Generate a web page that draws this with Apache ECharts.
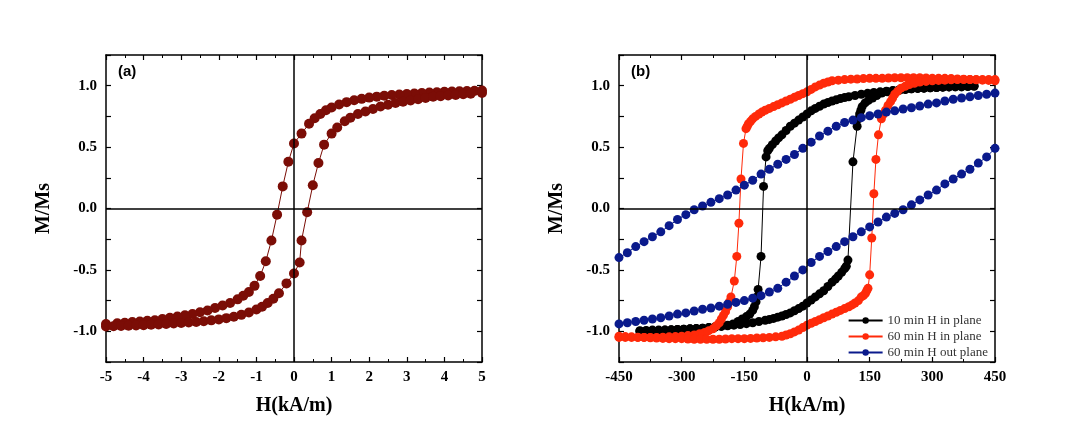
<!DOCTYPE html>
<html>
<head>
<meta charset="utf-8">
<script src="https://cdn.jsdelivr.net/npm/echarts@6/dist/echarts.min.js"></script>
<style>html,body{margin:0;padding:0;background:#fff}#c{width:1067px;height:430px}</style>
</head>
<body>
<div id="c"></div>
<script>
// (a) 回线: 下降支 / 上升支  [H(kA/m), M/Ms]
var aDown = [[5,0.96],[4.8,0.958],[4.6,0.956],[4.4,0.954],[4.2,0.952],[4,0.95],[3.8,0.947],[3.6,0.944],[3.4,0.941],[3.2,0.937],[3,0.933],[2.8,0.929],[2.6,0.924],[2.4,0.918],[2.2,0.911],[2,0.903],[1.8,0.893],[1.6,0.881],[1.4,0.866],[1.2,0.847],[1,0.822],[0.85,0.8],[0.7,0.77],[0.55,0.735],[0.4,0.69],[0.2,0.61],[0,0.53],[-0.15,0.38],[-0.3,0.18],[-0.45,-0.05],[-0.6,-0.26],[-0.75,-0.43],[-0.9,-0.55],[-1.05,-0.63],[-1.2,-0.68],[-1.35,-0.71],[-1.5,-0.74],[-1.7,-0.77],[-1.9,-0.79],[-2.1,-0.81],[-2.3,-0.83],[-2.5,-0.845],[-2.7,-0.86],[-2.9,-0.87],[-3.1,-0.88],[-3.3,-0.89],[-3.5,-0.9],[-3.7,-0.91],[-3.9,-0.915],[-4.1,-0.92],[-4.3,-0.925],[-4.5,-0.93],[-4.7,-0.935],[-5,-0.94]];
var aUp = [[-5,-0.96],[-4.8,-0.958],[-4.6,-0.956],[-4.4,-0.954],[-4.2,-0.952],[-4,-0.95],[-3.8,-0.947],[-3.6,-0.944],[-3.4,-0.941],[-3.2,-0.937],[-3,-0.933],[-2.8,-0.929],[-2.6,-0.924],[-2.4,-0.918],[-2.2,-0.911],[-2,-0.903],[-1.8,-0.893],[-1.6,-0.881],[-1.4,-0.866],[-1.2,-0.847],[-1,-0.822],[-0.85,-0.8],[-0.7,-0.77],[-0.55,-0.735],[-0.4,-0.69],[-0.2,-0.61],[0,-0.53],[0.15,-0.44],[0.2,-0.26],[0.35,-0.03],[0.5,0.19],[0.65,0.37],[0.8,0.52],[1,0.61],[1.15,0.66],[1.35,0.71],[1.5,0.74],[1.7,0.77],[1.9,0.79],[2.1,0.81],[2.3,0.83],[2.5,0.845],[2.7,0.86],[2.9,0.87],[3.1,0.88],[3.3,0.89],[3.5,0.9],[3.7,0.91],[3.9,0.915],[4.1,0.92],[4.3,0.925],[4.5,0.93],[4.7,0.935],[5,0.94]];

// (b) 三条回线 [H(kA/m), M/Ms]
var blackDown = [[400,1.0],[385,0.998],[370,0.995],[355,0.993],[340,0.99],[325,0.988],[310,0.985],[295,0.983],[280,0.98],[265,0.978],[250,0.975],[235,0.97],[220,0.965],[205,0.96],[190,0.955],[175,0.95],[160,0.945],[145,0.938],[130,0.93],[115,0.92],[100,0.91],[90,0.903],[80,0.895],[70,0.885],[60,0.875],[50,0.863],[40,0.85],[30,0.833],[20,0.815],[10,0.795],[0,0.77],[-10,0.745],[-20,0.72],[-30,0.695],[-40,0.67],[-50,0.635],[-60,0.6],[-68,0.575],[-75,0.55],[-83,0.52],[-90,0.49],[-94,0.47],[-98,0.42],[-104,0.18],[-110,-0.39],[-117,-0.66],[-120,-0.72],[-122,-0.76],[-126,-0.8],[-130,-0.83],[-137,-0.86],[-145,-0.88],[-155,-0.9],[-165,-0.92],[-177,-0.94],[-190,-0.95],[-205,-0.958],[-220,-0.965],[-235,-0.97],[-250,-0.975],[-265,-0.978],[-280,-0.98],[-295,-0.983],[-310,-0.985],[-325,-0.988],[-340,-0.99],[-355,-0.99],[-370,-0.99],[-385,-0.993],[-400,-0.995]];
var blackUp = [[-400,-1.0],[-385,-0.998],[-370,-0.995],[-355,-0.993],[-340,-0.99],[-325,-0.988],[-310,-0.985],[-295,-0.983],[-280,-0.98],[-265,-0.978],[-250,-0.975],[-235,-0.97],[-220,-0.965],[-205,-0.96],[-190,-0.955],[-175,-0.95],[-160,-0.945],[-145,-0.938],[-130,-0.93],[-115,-0.92],[-100,-0.91],[-90,-0.903],[-80,-0.895],[-70,-0.885],[-60,-0.875],[-50,-0.863],[-40,-0.85],[-30,-0.833],[-20,-0.815],[-10,-0.795],[0,-0.77],[10,-0.745],[20,-0.72],[30,-0.695],[40,-0.67],[50,-0.635],[60,-0.6],[68,-0.575],[75,-0.55],[83,-0.52],[90,-0.49],[94,-0.47],[98,-0.42],[110,0.38],[120,0.67],[123,0.73],[126,0.77],[129,0.8],[132,0.83],[139,0.86],[147,0.88],[157,0.9],[167,0.92],[179,0.94],[192,0.95],[207,0.958],[222,0.965],[236,0.97],[250,0.975],[265,0.978],[280,0.98],[295,0.983],[310,0.985],[325,0.988],[340,0.99],[355,0.99],[370,0.99],[385,0.993],[400,0.995]];
var redDown = [[450,1.04],[435,1.043],[420,1.045],[405,1.048],[390,1.05],[375,1.053],[360,1.055],[345,1.058],[330,1.06],[315,1.06],[300,1.06],[285,1.063],[270,1.065],[255,1.065],[240,1.065],[225,1.065],[210,1.065],[195,1.063],[180,1.06],[165,1.06],[150,1.06],[135,1.058],[120,1.055],[105,1.053],[90,1.05],[75,1.045],[60,1.04],[50,1.03],[40,1.02],[30,1.005],[20,0.99],[10,0.97],[0,0.95],[-10,0.935],[-20,0.92],[-30,0.905],[-40,0.89],[-50,0.875],[-60,0.86],[-70,0.845],[-80,0.83],[-90,0.815],[-100,0.8],[-108,0.785],[-115,0.77],[-123,0.75],[-130,0.73],[-135,0.71],[-140,0.69],[-143,0.67],[-146,0.65],[-152,0.53],[-158,0.24],[-163,-0.12],[-168,-0.39],[-174,-0.59],[-182,-0.72],[-186,-0.76],[-190,-0.8],[-195,-0.84],[-200,-0.87],[-205,-0.9],[-210,-0.93],[-217,-0.955],[-225,-0.98],[-235,-0.995],[-245,-1.01],[-257,-1.02],[-270,-1.03],[-285,-1.035],[-300,-1.04],[-315,-1.043],[-330,-1.045],[-345,-1.048],[-360,-1.05],[-375,-1.05],[-390,-1.05],[-405,-1.05],[-420,-1.05],[-435,-1.05],[-450,-1.05]];
var redUp = [[-450,-1.04],[-435,-1.043],[-420,-1.045],[-405,-1.048],[-390,-1.05],[-375,-1.053],[-360,-1.055],[-345,-1.058],[-330,-1.06],[-315,-1.06],[-300,-1.06],[-285,-1.063],[-270,-1.065],[-255,-1.065],[-240,-1.065],[-225,-1.065],[-210,-1.065],[-195,-1.063],[-180,-1.06],[-165,-1.06],[-150,-1.06],[-135,-1.058],[-120,-1.055],[-105,-1.053],[-90,-1.05],[-75,-1.045],[-60,-1.04],[-50,-1.03],[-40,-1.02],[-30,-1.005],[-20,-0.99],[-10,-0.97],[0,-0.95],[10,-0.935],[20,-0.92],[30,-0.905],[40,-0.89],[50,-0.875],[60,-0.86],[70,-0.845],[80,-0.83],[90,-0.815],[100,-0.8],[108,-0.785],[115,-0.77],[123,-0.75],[130,-0.72],[135,-0.71],[140,-0.69],[143,-0.67],[146,-0.65],[150,-0.54],[155,-0.24],[160,0.12],[165,0.4],[171,0.6],[178,0.73],[183,0.77],[188,0.8],[194,0.84],[200,0.87],[205,0.9],[210,0.93],[217,0.955],[225,0.98],[235,0.995],[245,1.01],[257,1.02],[270,1.03],[285,1.035],[300,1.04],[315,1.043],[330,1.045],[345,1.048],[360,1.05],[375,1.05],[390,1.05],[405,1.05],[420,1.05],[435,1.05],[450,1.05]];
var blueDown = [[450,0.94],[430,0.93],[410,0.92],[390,0.91],[370,0.9],[350,0.89],[330,0.875],[310,0.86],[290,0.85],[270,0.835],[250,0.82],[230,0.81],[210,0.795],[190,0.785],[170,0.77],[150,0.755],[130,0.74],[110,0.72],[90,0.7],[70,0.67],[50,0.63],[30,0.59],[10,0.54],[-10,0.49],[-30,0.44],[-50,0.4],[-70,0.36],[-90,0.32],[-110,0.28],[-130,0.23],[-150,0.19],[-170,0.15],[-190,0.11],[-210,0.08],[-230,0.05],[-250,0.02],[-270,-0.01],[-290,-0.05],[-310,-0.09],[-330,-0.14],[-350,-0.19],[-370,-0.23],[-390,-0.27],[-410,-0.31],[-430,-0.36],[-450,-0.4]];
var blueUp = [[-450,-0.94],[-430,-0.93],[-410,-0.92],[-390,-0.91],[-370,-0.9],[-350,-0.89],[-330,-0.875],[-310,-0.86],[-290,-0.85],[-270,-0.835],[-250,-0.82],[-230,-0.81],[-210,-0.795],[-190,-0.78],[-170,-0.765],[-150,-0.75],[-130,-0.73],[-110,-0.71],[-90,-0.68],[-70,-0.65],[-50,-0.6],[-30,-0.55],[-10,-0.5],[10,-0.44],[30,-0.39],[50,-0.35],[70,-0.31],[90,-0.27],[110,-0.23],[130,-0.19],[150,-0.15],[170,-0.11],[190,-0.07],[210,-0.04],[230,-0.01],[250,0.03],[270,0.07],[290,0.11],[310,0.15],[330,0.2],[350,0.24],[370,0.28],[390,0.32],[410,0.37],[430,0.42],[450,0.49]];

var legendNames = ['10 min H in plane', '60 min H in plane', '60 min H out plane'];
var xTicksA = {min: -5, max: 5, interval: 1};
var xTicksB = {min: -450, max: 450, interval: 150};

var serif = 'Liberation Serif';
var tickStyle = {show: true, inside: true, length: 5, lineStyle: {color: '#000', width: 1.2}};
var minor = {show: true, splitNumber: 2, length: 3, lineStyle: {color: '#000'}};

function yAxisFor(gi, pos, showLabel) {
    return {
        type: 'value', gridIndex: gi, position: pos, min: -1.25, max: 1.25, interval: 0.25,
        name: showLabel ? 'M/Ms' : '', nameLocation: 'middle', nameGap: 52,
        nameTextStyle: {fontFamily: serif, fontWeight: 'bold', fontSize: 20, color: '#000'},
        axisLine: {show: true, onZero: false, lineStyle: {color: '#000', width: 1.5}},
        axisTick: tickStyle, splitLine: {show: false},
        axisLabel: {show: showLabel, fontFamily: serif, fontWeight: 'bold', fontSize: 15, color: '#000', margin: 9,
            formatter: function (v) { return Math.abs(v * 2 - Math.round(v * 2)) < 1e-6 ? v.toFixed(1) : ''; }}
    };
}
function xAxisFor(gi, pos, t, showLabel) {
    return {
        type: 'value', gridIndex: gi, position: pos, min: t.min, max: t.max, interval: t.interval,
        name: showLabel ? 'H(kA/m)' : '', nameLocation: 'middle', nameGap: 34,
        nameTextStyle: {fontFamily: serif, fontWeight: 'bold', fontSize: 20, color: '#000'},
        axisLine: {show: true, onZero: false, lineStyle: {color: '#000', width: 1.5}},
        axisTick: tickStyle, minorTick: minor, splitLine: {show: false},
        axisLabel: {show: showLabel, fontFamily: serif, fontWeight: 'bold', fontSize: 15, color: '#000'}
    };
}
function loop(name, data, color, xi, size, zeroLines) {
    var s = {
        name: name, type: 'line', xAxisIndex: xi, yAxisIndex: xi * 2, data: data,
        symbol: 'circle', symbolSize: size, showSymbol: true, animation: false,
        itemStyle: {color: color}, lineStyle: {color: color, width: 1}
    };
    if (zeroLines) {
        s.markLine = {silent: true, symbol: 'none', label: {show: false}, animation: false,
            lineStyle: {color: '#000', type: 'solid', width: 1.5},
            data: [{xAxis: 0}, {yAxis: 0}]};
    }
    return s;
}

var chart = echarts.init(document.getElementById('c'));
chart.setOption({
    backgroundColor: '#fff',
    grid: [
        {left: 106, top: 55, width: 376, height: 307},
        {left: 619, top: 55, width: 376, height: 307}
    ],
    xAxis: [
        xAxisFor(0, 'bottom', xTicksA, true), xAxisFor(1, 'bottom', xTicksB, true),
        xAxisFor(0, 'top', xTicksA, false), xAxisFor(1, 'top', xTicksB, false)
    ],
    yAxis: [
        yAxisFor(0, 'left', true), yAxisFor(0, 'right', false),
        yAxisFor(1, 'left', true), yAxisFor(1, 'right', false)
    ],
    graphic: [
        {type: 'text', left: 118, top: 64, style: {text: '(a)', font: 'bold 15px "Liberation Sans"', fill: '#000'}},
        {type: 'text', left: 631, top: 64, style: {text: '(b)', font: 'bold 15px "Liberation Sans"', fill: '#000'}}
    ],
    legend: {
        data: legendNames, orient: 'vertical', right: 74, top: 309, itemGap: 3,
        itemWidth: 34, itemHeight: 8,
        textStyle: {fontFamily: serif, fontSize: 13, color: '#333'}
    },
    series: [
        loop('a1', aDown, '#7b0d06', 0, 10, true),
        loop('a2', aUp, '#7b0d06', 0, 10, false),
        loop(legendNames[0], blackDown, '#000', 1, 9, true),
        loop(legendNames[0], blackUp, '#000', 1, 9, false),
        loop(legendNames[1], redDown, '#ff2a0a', 1, 9, false),
        loop(legendNames[1], redUp, '#ff2a0a', 1, 9, false),
        loop(legendNames[2], blueDown, '#0a1a8c', 1, 9, false),
        loop(legendNames[2], blueUp, '#0a1a8c', 1, 9, false)
    ]
});
</script>
</body>
</html>
